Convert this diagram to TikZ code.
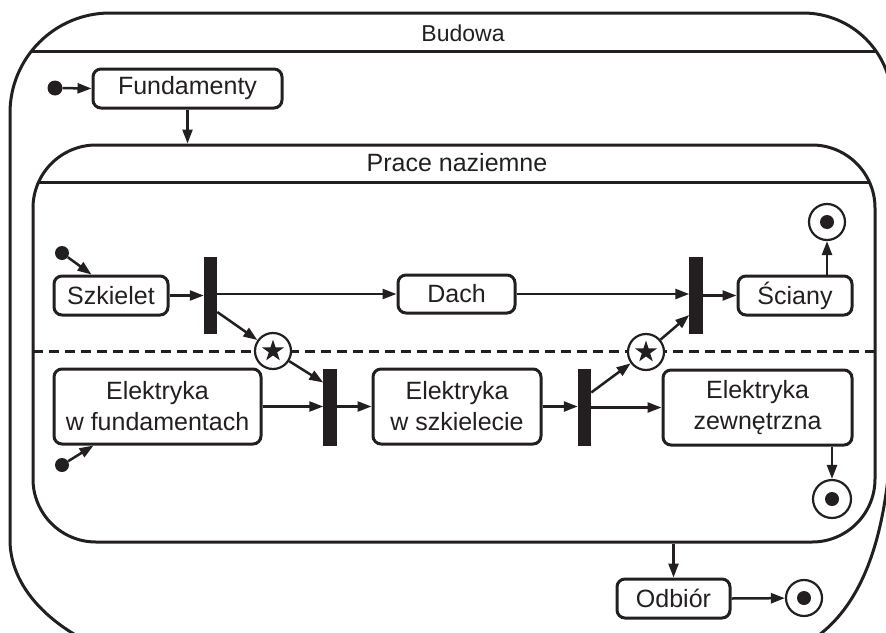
\documentclass[tikz,border=0pt]{standalone}
\usepackage{fontspec}
\setmainfont{Liberation Sans}
\usetikzlibrary{arrows.meta,shapes.geometric,calc}
\definecolor{ink}{RGB}{35,31,32}
\begin{document}
\begin{tikzpicture}[x=1pt,y=-1pt,
  every node/.style={inner sep=0pt},
  txt/.style={font=\fontsize{25}{31}\selectfont, text=ink},
  statebox/.style={draw=ink, line width=3pt, rounded corners=8pt, txt, align=center},
  syncbar/.style={fill=ink, minimum width=13.5pt, minimum height=77pt, outer sep=0pt},
  startdot/.style={circle, fill=ink, minimum size=15pt},
  enddot/.style={circle, draw=ink, line width=2.2pt, fill=white, minimum size=36pt},
  history/.style={circle, draw=ink, line width=2.2pt, fill=white, minimum size=36pt},
  conn/.style={draw=ink, line width=2.5pt, -{Triangle[length=14pt,width=10pt]}},
  frame/.style={draw=ink, line width=3pt}]

\useasboundingbox (0,0) rectangle (886,632);
\begin{scope}
\clip (0,0) rectangle (886,632);

% outer composite state "Budowa"
\def\outerpath{(10,113) .. controls (10,57.8) and (54.8,13) .. (110,13) -- (803,13)
  .. controls (852.2,13) and (892,52.8) .. (892,102) -- (892,400)
  .. controls (892,540) and (860,630) .. (780,655) -- (120,655)
  .. controls (59,635) and (10,592) .. (10,540) -- cycle}
\draw[frame] \outerpath;
\begin{scope}
  \clip \outerpath;
  \draw[frame] (0,51) -- (900,51);
\end{scope}
\node[txt, font=\fontsize{23}{28}\selectfont] (budowa) at (463,33) {Budowa};

% inner composite state "Prace naziemne"
\node[frame, rounded corners=63pt, minimum width=842pt, minimum height=397pt] (pn) at (454,343.5) {};
\begin{scope}
  \clip[rounded corners=63pt] (33,145) rectangle (875,542);
  \draw[frame] (0,182) -- (900,182);
\end{scope}
\node[txt] (pntitle) at (457,163) {Prace naziemne};

% region separator
\draw[draw=ink, line width=3pt, dash pattern=on 10pt off 6pt] (33,351) -- (875,351);

% top level states
\node[startdot] (i0) at (55,88) {};
\node[statebox, minimum width=189pt, minimum height=39pt] (fund) at (187.5,88.5) {Fundamenty};
\node[statebox, minimum width=113pt, minimum height=39pt] (odb) at (673.5,598.5) {Odbiór};
\node[enddot] (f3) at (804,598) {};
\fill[ink] (f3) circle[radius=7pt];

% upper region
\node[startdot, minimum size=14pt] (i1) at (62,253) {};
\node[statebox, minimum width=114pt, minimum height=39pt] (szk) at (111,295.5) {Szkielet};
\node[syncbar] (b1) at (210.5,295) {};
\node[statebox, minimum width=117pt, minimum height=38pt] (dach) at (456.5,294) {Dach};
\node[syncbar] (b4) at (696,295) {};
\node[statebox, minimum width=114pt, minimum height=39pt] (sci) at (795,295.5) {Ściany};
\node[enddot] (f1) at (827,222) {};
\fill[ink] (f1) circle[radius=7pt];

% lower region
\node[startdot, minimum size=14pt] (i2) at (62,465) {};
\node[statebox, minimum width=207pt, minimum height=75pt] (ewf) at (157.5,406.5) {Elektryka\\w fundamentach};
\node[syncbar] (b2) at (330,407.5) {};
\node[statebox, minimum width=168pt, minimum height=75pt] (ews) at (457,406.5) {Elektryka\\w szkielecie};
\node[syncbar] (b3) at (584.5,407.5) {};
\node[statebox, minimum width=189pt, minimum height=75pt] (ez) at (757.5,407.5) {Elektryka\\zewnętrzna};
\node[enddot, minimum size=38pt] (f2) at (832,499) {};
\fill[ink] (f2) circle[radius=7pt];

% synchronisation states
\node[history] (s1) at (273,351) {};
\node[star, star points=5, star point ratio=2.6, fill=ink, minimum size=23pt] at (s1) {};
\node[history] (s2) at (646,352) {};
\node[star, star points=5, star point ratio=2.6, fill=ink, minimum size=23pt] at (s2) {};

% transitions
\draw[conn] (i0) -- (fund.west);
\draw[conn] (fund.south) -- (fund.south |- pn.north);
\draw[conn] (pn.south -| odb.north) -- (odb.north);
\draw[conn] (odb.east) -- (f3);

\draw[conn] (i1) -- ([xshift=39pt]szk.north west);
\draw[conn] (szk.east) -- (szk.east -| b1.west);
\draw[conn] (b1.east |- dach.west) -- (dach.west);
\draw[conn] ([yshift=-17pt]b1.east) -- (s1);
\draw[conn] (s1) -- ([yshift=25pt]b2.west);
\draw[conn] (dach.east) -- (dach.east -| b4.west);
\draw[conn] (s2) -- ([yshift=-20pt]b4.west);
\draw[conn] (b4.east |- sci.west) -- (sci.west);
\draw[conn] (f1 |- sci.north) -- (f1);

\draw[conn] (i2) -- ([xshift=41pt]ewf.south west);
\draw[conn] (ewf.east) -- (ewf.east -| b2.west);
\draw[conn] (b2.east |- ews.west) -- (ews.west);
\draw[conn] (ews.east) -- (ews.east -| b3.west);
\draw[conn] (b3.east |- ez.west) -- (ez.west);
\draw[conn] ([yshift=15pt]b3.east) -- (s2);
\draw[conn] (f2 |- ez.south) -- (f2);
\end{scope}
\end{tikzpicture}
\end{document}
